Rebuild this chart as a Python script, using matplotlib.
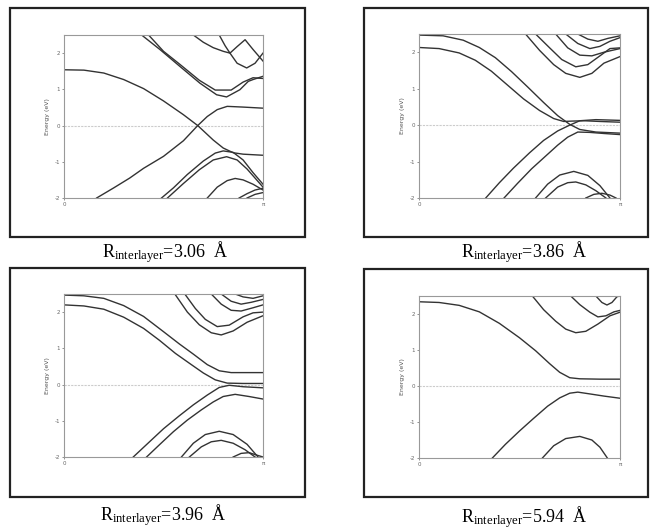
import numpy as np
import matplotlib
matplotlib.use("Agg")
import matplotlib.pyplot as plt
from matplotlib.patches import Rectangle

plt.rcParams['mathtext.fontset'] = 'custom'
plt.rcParams['mathtext.rm'] = 'Liberation Serif'
plt.rcParams['mathtext.it'] = 'Liberation Serif:italic'

# interlayer distances (Angstrom)
distances = ['3.06', '3.86', '3.96', '5.94']

# band energies (eV) along k = 0 .. pi, k given in units of pi
bands_306 = [
    ([0, 0.1, 0.2, 0.3, 0.4, 0.5, 0.6, 0.672, 0.75, 0.8, 0.85, 0.9, 1.0],
     [1.54, 1.53, 1.45, 1.27, 1.02, 0.68, 0.30, 0.0, -0.40, -0.62, -0.75, -0.79, -0.82]),
    ([0.164, 0.25, 0.33, 0.4, 0.5, 0.6, 0.672, 0.72, 0.77, 0.82, 0.9, 1.0],
     [-2.0, -1.72, -1.45, -1.18, -0.85, -0.42, 0.0, 0.25, 0.44, 0.53, 0.51, 0.48]),
    ([0.39, 0.482, 0.583, 0.683, 0.767, 0.817, 0.884, 0.926, 0.95, 1.0],
     [2.5, 2.10, 1.63, 1.17, 0.85, 0.79, 0.99, 1.22, 1.27, 1.36]),
    ([0.425, 0.5, 0.58, 0.68, 0.76, 0.84, 0.9, 0.95, 1.0],
     [2.5, 2.05, 1.70, 1.25, 0.98, 0.98, 1.20, 1.32, 1.30]),
    ([0.65, 0.70, 0.75, 0.80, 0.834, 0.87, 0.91, 0.95, 1.0],
     [2.5, 2.3, 2.15, 2.05, 2.0, 2.18, 2.37, 2.1, 1.78]),
    ([0.78, 0.81, 0.834, 0.87, 0.918, 0.96, 1.0],
     [2.5, 2.2, 2.0, 1.72, 1.59, 1.72, 2.0]),
    ([0.49, 0.55, 0.62, 0.70, 0.76, 0.80, 0.85, 0.9, 0.95, 1.0],
     [-2.0, -1.72, -1.35, -0.98, -0.76, -0.70, -0.74, -0.95, -1.3, -1.62]),
    ([0.52, 0.6, 0.68, 0.75, 0.817, 0.87, 0.92, 0.96, 1.0],
     [-2.0, -1.6, -1.22, -0.95, -0.86, -0.95, -1.2, -1.45, -1.7]),
    ([0.72, 0.77, 0.82, 0.86, 0.9, 0.95, 1.0],
     [-2.0, -1.7, -1.52, -1.46, -1.5, -1.62, -1.78]),
    ([0.88, 0.92, 0.96, 1.0], [-2.0, -1.88, -1.78, -1.73]),
    ([0.92, 0.96, 1.0], [-2.0, -1.9, -1.85]),
]

bands_386 = [
    ([0, 0.12, 0.22, 0.3, 0.38, 0.46, 0.54, 0.62, 0.69, 0.75, 0.8, 0.88, 1.0],
     [2.47, 2.45, 2.33, 2.13, 1.85, 1.47, 1.05, 0.62, 0.26, 0.02, -0.12, -0.19, -0.22]),
    ([0, 0.1, 0.2, 0.28, 0.36, 0.44, 0.52, 0.6, 0.67, 0.72, 0.76, 0.82, 0.9, 1.0],
     [2.13, 2.1, 1.98, 1.78, 1.48, 1.1, 0.72, 0.4, 0.18, 0.1, 0.11, 0.12, 0.1, 0.08]),
    ([0.332, 0.4, 0.47, 0.55, 0.62, 0.69, 0.75, 0.8, 0.88, 1.0],
     [-2.0, -1.58, -1.18, -0.76, -0.42, -0.16, 0.0, 0.12, 0.15, 0.13]),
    ([0.423, 0.49, 0.56, 0.63, 0.69, 0.74, 0.79, 0.85, 0.92, 1.0],
     [-2.0, -1.6, -1.2, -0.85, -0.55, -0.33, -0.19, -0.2, -0.23, -0.26]),
    ([0.58, 0.64, 0.7, 0.77, 0.84, 0.9, 0.95],
     [-2.0, -1.62, -1.37, -1.27, -1.38, -1.66, -2.0]),
    ([0.63, 0.69, 0.74, 0.78, 0.83, 0.88, 0.93],
     [-2.0, -1.7, -1.58, -1.56, -1.64, -1.8, -2.0]),
    ([0.83, 0.87, 0.91, 0.95, 0.98], [-2.0, -1.9, -1.87, -1.92, -2.0]),
    ([0.53, 0.6, 0.67, 0.73, 0.8, 0.86, 0.92, 1.0],
     [2.5, 2.05, 1.66, 1.42, 1.31, 1.42, 1.7, 1.88]),
    ([0.58, 0.65, 0.71, 0.78, 0.84, 0.9, 0.95, 1.0],
     [2.5, 2.12, 1.8, 1.6, 1.66, 1.9, 2.1, 2.12]),
    ([0.68, 0.74, 0.8, 0.86, 0.92, 1.0], [2.5, 2.12, 1.92, 1.9, 2.0, 2.1]),
    ([0.73, 0.79, 0.85, 0.9, 0.95, 1.0], [2.5, 2.24, 2.1, 2.16, 2.3, 2.4]),
    ([0.79, 0.84, 0.89, 0.94, 1.0], [2.5, 2.36, 2.3, 2.38, 2.45]),
]

bands_396 = [
    ([0, 0.1, 0.2, 0.3, 0.4, 0.5, 0.58, 0.65, 0.72, 0.78, 0.84, 0.9, 1.0],
     [2.47, 2.45, 2.38, 2.18, 1.88, 1.46, 1.12, 0.84, 0.55, 0.38, 0.33, 0.33, 0.33]),
    ([0, 0.1, 0.2, 0.3, 0.4, 0.48, 0.56, 0.64, 0.7, 0.76, 0.82, 0.9, 1.0],
     [2.2, 2.17, 2.08, 1.86, 1.55, 1.22, 0.86, 0.55, 0.32, 0.13, 0.04, 0.03, 0.03]),
    ([0.348, 0.42, 0.5, 0.58, 0.65, 0.72, 0.78, 0.83, 0.9, 1.0],
     [-2.0, -1.63, -1.22, -0.86, -0.56, -0.29, -0.08, -0.02, -0.06, -0.09]),
    ([0.415, 0.48, 0.55, 0.62, 0.69, 0.75, 0.8, 0.86, 0.93, 1.0],
     [-2.0, -1.66, -1.3, -0.98, -0.7, -0.48, -0.33, -0.27, -0.33, -0.4]),
    ([0.59, 0.65, 0.71, 0.78, 0.85, 0.92, 0.975],
     [-2.0, -1.62, -1.38, -1.29, -1.38, -1.65, -2.0]),
    ([0.63, 0.69, 0.74, 0.79, 0.85, 0.91, 0.96],
     [-2.0, -1.72, -1.58, -1.54, -1.62, -1.8, -2.0]),
    ([0.85, 0.89, 0.93, 0.97, 1.0], [-2.0, -1.9, -1.88, -1.95, -2.0]),
    ([0.557, 0.62, 0.68, 0.74, 0.79, 0.85, 0.92, 1.0],
     [2.5, 2.0, 1.65, 1.43, 1.37, 1.48, 1.72, 1.9]),
    ([0.607, 0.66, 0.71, 0.77, 0.83, 0.9, 0.95, 1.0],
     [2.5, 2.1, 1.8, 1.6, 1.64, 1.87, 1.98, 2.0]),
    ([0.74, 0.79, 0.84, 0.89, 0.95, 1.0], [2.5, 2.22, 2.05, 2.03, 2.12, 2.2]),
    ([0.79, 0.84, 0.89, 0.94, 1.0], [2.5, 2.3, 2.22, 2.27, 2.35]),
    ([0.86, 0.9, 0.95, 1.0], [2.5, 2.42, 2.38, 2.45]),
]

bands_594 = [
    ([0, 0.1, 0.2, 0.3, 0.4, 0.5, 0.58, 0.65, 0.7, 0.75, 0.8, 0.9, 1.0],
     [2.34, 2.32, 2.24, 2.06, 1.74, 1.34, 0.98, 0.62, 0.38, 0.23, 0.2, 0.19, 0.19]),
    ([0.365, 0.43, 0.5, 0.57, 0.64, 0.7, 0.75, 0.79, 0.85, 0.92, 1.0],
     [-2.0, -1.62, -1.25, -0.9, -0.56, -0.33, -0.2, -0.17, -0.22, -0.28, -0.34]),
    ([0.614, 0.67, 0.73, 0.8, 0.86, 0.9, 0.937],
     [-2.0, -1.66, -1.46, -1.4, -1.5, -1.7, -2.0]),
    ([0.564, 0.62, 0.68, 0.73, 0.78, 0.83, 0.89, 0.95, 1.0],
     [2.5, 2.12, 1.8, 1.58, 1.48, 1.52, 1.72, 1.95, 2.05]),
    ([0.755, 0.8, 0.85, 0.89, 0.93, 0.97, 1.0],
     [2.5, 2.26, 2.05, 1.92, 1.95, 2.06, 2.1]),
    ([0.88, 0.91, 0.935, 0.96, 0.985, 1.0],
     [2.5, 2.32, 2.25, 2.32, 2.48, 2.5]),
]

all_bands = [bands_306, bands_386, bands_396, bands_594]

W, H = 652, 531
fig = plt.figure(figsize=(W / 100, H / 100), dpi=100)

# pixel boxes (left, top, right, bottom)
frames = [(10, 8, 305, 237), (364, 8, 648, 237), (10, 268, 305, 497), (364, 269, 648, 497)]
axboxes = [(64, 35, 263, 198), (419, 34, 620, 198), (64, 294, 263, 457), (419, 296, 620, 458)]
label_pos = [(165, 252), (524, 252), (163, 515), (524, 517)]

def fbox(b):
    l, t, r, btm = b
    return [l / W, 1 - btm / H, (r - l) / W, (btm - t) / H]

for i in range(4):
    x, y, w, h = fbox(frames[i])
    fig.add_artist(Rectangle((x, y), w, h, transform=fig.transFigure,
                             fill=False, edgecolor='#222222', linewidth=1.6))

    ax = fig.add_axes(fbox(axboxes[i]))
    ax.axhline(0, color='#cccccc', lw=0.8, ls=(0, (2, 1)), zorder=1)
    for k, e in all_bands[i]:
        ax.plot(np.array(k) * np.pi, e, color='#333333', lw=1.0, zorder=2)
    ax.set_xlim(0, np.pi)
    ax.set_ylim(-2, 2.5)
    ax.set_xticks([0, np.pi])
    ax.set_xticklabels(['0', 'π'])
    ax.set_yticks([-2, -1, 0, 1, 2])
    ax.set_yticklabels(['-2', '-1', '0', '1', '2'])
    ax.tick_params(labelsize=4, length=1.5, width=0.5, colors='#666666', pad=1.5)
    ax.set_ylabel('Energy (eV)', fontsize=4.5, color='#555555', labelpad=3)
    for s in ax.spines.values():
        s.set_color('#999999')
        s.set_linewidth(0.8)

    lx, ly = label_pos[i]
    fig.text(lx / W, 1 - ly / H,
             r'$\mathrm{R_{interlayer}}$=' + distances[i] + '  Å',
             ha='center', va='center', fontsize=13, family='Liberation Serif')

fig.savefig('out.png', dpi=100)
